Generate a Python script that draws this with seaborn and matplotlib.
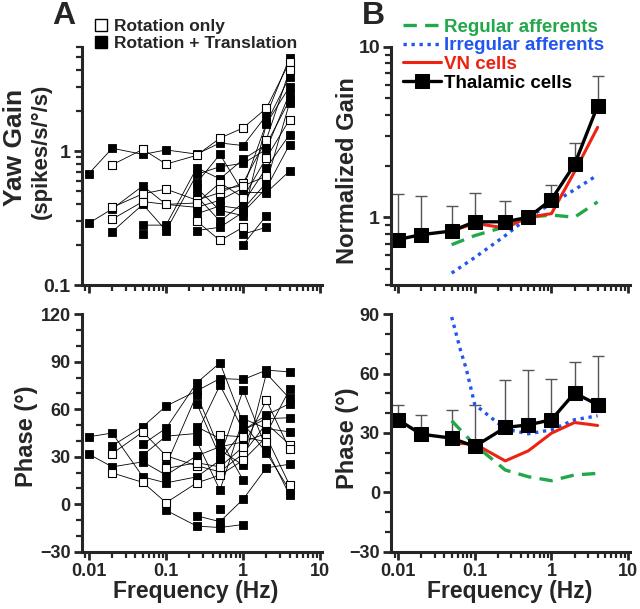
import numpy as np
import pandas as pd
import matplotlib
matplotlib.use("Agg")
import matplotlib.pyplot as plt
from matplotlib.ticker import LogLocator, NullFormatter, MultipleLocator
from matplotlib.lines import Line2D
import seaborn as sns

# stimulus frequencies (Hz)
freqs = [0.01, 0.02, 0.05, 0.1, 0.25, 0.5, 1, 2, 4]
N = None

# panel A, individual cells: gain, rotation only (open squares)
gain_rot = [
    [N, 0.79, 1.03, 0.80, 0.93, 1.25, 1.49, 2.09, 4.64],
    [N, 0.38, 0.48, 0.52, 0.43, 0.49, 0.58, 1.22, 4.03],
    [N, 0.31, 0.42, 0.40, 0.41, 0.58, 0.45, 0.89, 1.72],
    [N, N, N, N, 0.30, 0.215, 0.27, N, N],
    [N, N, N, N, N, 0.52, 0.55, 0.65, N],
]
# gain, rotation + translation (filled squares)
gain_rt = [
    [0.68, 1.05, 0.945, 1.02, 0.95, 1.15, 1.10, 1.85, 4.97],
    [0.29, 0.37, 0.55, 0.40, 0.38, 0.43, 0.53, 1.62, 3.6],
    [N, 0.25, 0.40, 0.255, 0.67, 0.765, 0.81, 1.03, 2.7],
    [N, N, 0.28, 0.28, 0.75, 0.62, 0.87, 1.12, 2.41],
    [N, N, 0.24, N, N, N, N, N, N],
    [N, N, N, N, 0.46, 0.30, 0.41, 0.75, 1.33],
    [N, N, N, N, 0.34, 0.39, 0.37, 0.58, 2.3],
    [N, N, N, N, 0.255, 0.27, 0.35, 0.53, 1.12],
    [N, N, N, N, 0.58, 0.945, 0.49, 0.49, 0.71],
    [N, N, N, N, N, N, 0.20, 0.33, N],
    [N, N, N, N, N, N, 0.24, 0.27, N],
    [N, N, N, N, 0.53, 0.36, 0.33, 1.6, 3.03],
]
# phase, rotation only
phase_rot = [
    [N, 32.0, 45.7, 30.6, 24.3, 20.5, 32.0, 51.0, 37.7],
    [N, 19.8, 13.8, 1.0, 13.5, 18.4, 27.8, 42.6, 12.1],
    [N, N, N, 22.6, 26.2, 23.6, 36.3, 65.7, 34.6],
    [N, N, N, N, N, 43.6, 42.6, 39.4, N],
]
# phase, rotation + translation
phase_rt = [
    [42.6, 45.0, 17.3, 13.5, 17.3, 27.8, 46.8, 54.1, 54.6],
    [31.6, 23.6, 26.8, 18.4, 30.6, 36.3, 39.4, 44.7, 72.5],
    [N, 37.0, 49.0, 62.0, 71.6, 79.4, 78.8, 84.7, 83.6],
    [N, N, 38.0, 48.0, 76.7, 89.3, 51.0, 32.5, 8.9],
    [N, N, 31.0, 43.0, 44.7, 75.2, 46.8, 56.3, 63.6],
    [N, N, N, 24.7, 69.3, 34.2, 24.7, 82.6, 66.8],
    [N, N, N, N, 63.6, 30.0, 72.0, 35.2, 5.8],
    [N, N, N, -3.8, -13.8, -14.7, -12.8, N, N],
    [N, N, N, N, -7.3, -11.0, 3.2, 23.0, 25.3],
    [N, N, N, N, 48.9, 41.5, 15.2, N, N],
    [N, N, N, N, 39.8, 8.9, 54.1, 47.8, 45.7],
    [N, N, N, N, N, -2.7, N, N, N],
]

# panel B, population averages
thal_gain = [0.74, 0.79, 0.83, 0.94, 0.94, 1.0, 1.27, 2.04, 4.5]
thal_gain_up = [1.36, 1.33, 1.17, 1.38, 1.25, 1.0, 1.54, 2.71, 6.75]
thal_phase = [36.7, 29.4, 27.4, 23.2, 32.8, 34.1, 36.7, 50.2, 44.3]
thal_phase_up = [44.3, 39.2, 41.7, 44.3, 57.0, 61.7, 57.5, 65.9, 68.8]

model_freqs = [0.05, 0.1, 0.25, 0.5, 1, 2, 4]
vn_gain = [0.83, 0.92, 0.865, 1.0, 1.05, 1.85, 3.37]
vn_phase = [24.8, 24.5, 15.9, 21.0, 29.9, 35.3, 33.8]
reg_gain = [0.69, 0.78, 0.88, 1.0, 1.03, 1.0, 1.23]
reg_phase = [36.2, 24.0, 11.3, 7.9, 5.9, 8.8, 9.6]
irr_gain = [0.47, 0.58, 0.78, 1.0, 1.2, 1.45, 1.77]
irr_phase_freqs = [0.05, 0.065, 0.078, 0.1, 0.25, 0.5, 1, 2, 4]
irr_phase = [88.6, 72.0, 62.0, 44.4, 32.0, 29.6, 31.6, 36.7, 38.7]

GREEN = "#22a84a"
BLUE = "#2256ee"
RED = "#ee2211"

sns.set_style("ticks")
plt.rcParams["font.family"] = ["Liberation Sans", "DejaVu Sans"]
plt.rcParams["font.weight"] = "bold"
plt.rcParams["axes.labelweight"] = "bold"


def long_table(rows, cond):
    recs = []
    for i, row in enumerate(rows):
        for f, v in zip(freqs, row):
            if v is not None:
                recs.append({"freq": f, "value": v, "cell": f"{cond}{i}", "cond": cond})
    return pd.DataFrame(recs)


def style_axis(ax):
    ax.set_xscale("log")
    ax.set_xlim(0.0081, 10.5)
    ax.set_xticks([0.01, 0.1, 1, 10])
    ax.xaxis.set_minor_locator(LogLocator(base=10, subs=np.arange(2, 10)))
    ax.xaxis.set_minor_formatter(NullFormatter())
    for s in ["top", "right"]:
        ax.spines[s].set_visible(False)
    for s in ["left", "bottom"]:
        ax.spines[s].set_linewidth(2.2)
    ax.tick_params(which="major", length=6, width=2, labelsize=13, pad=2)
    ax.tick_params(which="minor", length=4, width=1.6)
    ax.set_xlabel("")
    ax.set_ylabel("")


fig = plt.figure(figsize=(6.4, 6.09), dpi=100)
ax_a1 = fig.add_axes([0.128, 0.532, 0.375, 0.391])
ax_a2 = fig.add_axes([0.128, 0.094, 0.375, 0.390])
ax_b1 = fig.add_axes([0.611, 0.532, 0.373, 0.391])
ax_b2 = fig.add_axes([0.611, 0.094, 0.373, 0.390])

# ---- panel A ----
for ax, rot, rt in [(ax_a1, gain_rot, gain_rt), (ax_a2, phase_rot, phase_rt)]:
    df = pd.concat([long_table(rot, "rot"), long_table(rt, "rt")], ignore_index=True)
    sns.lineplot(data=df, x="freq", y="value", units="cell", estimator=None,
                 color="black", lw=0.6, legend=False, ax=ax, zorder=1)
    d_rt = df[df["cond"] == "rt"]
    d_rot = df[df["cond"] == "rot"]
    sns.scatterplot(data=d_rt, x="freq", y="value", marker="s", s=38,
                    color="black", edgecolor="black", linewidth=0.6, ax=ax, zorder=3)
    sns.scatterplot(data=d_rot, x="freq", y="value", marker="s", s=38,
                    color="white", edgecolor="black", linewidth=0.8, ax=ax, zorder=4)

style_axis(ax_a1)
ax_a1.set_yscale("log")
ax_a1.set_ylim(0.1, 6)
ax_a1.set_yticks([0.1, 1])
ax_a1.set_yticklabels(["0.1", "1"])
ax_a1.yaxis.set_minor_locator(LogLocator(base=10, subs=np.arange(2, 10)))
ax_a1.yaxis.set_minor_formatter(NullFormatter())
ax_a1.set_xticklabels([])
ax_a1.tick_params(axis="y", labelsize=14)

style_axis(ax_a2)
ax_a2.set_ylim(-30, 120)
ax_a2.set_yticks([-30, 0, 30, 60, 90, 120])
ax_a2.yaxis.set_minor_locator(MultipleLocator(10))
ax_a2.set_xticklabels(["0.01", "0.1", "1", "10"])

# ---- panel B ----
ax_b1.errorbar(freqs, thal_gain,
               yerr=[np.zeros(len(freqs)), np.array(thal_gain_up) - np.array(thal_gain)],
               fmt="none", ecolor="#555555", elinewidth=1.0, capsize=4, capthick=1.0, zorder=1)
ax_b2.errorbar(freqs, thal_phase,
               yerr=[np.zeros(len(freqs)), np.array(thal_phase_up) - np.array(thal_phase)],
               fmt="none", ecolor="#555555", elinewidth=1.0, capsize=4, capthick=1.0, zorder=1)

sns.lineplot(x=model_freqs, y=reg_gain, color=GREEN, lw=2.4, ax=ax_b1,
             label="Regular afferents")
ax_b1.lines[-1].set_dashes([4, 2.5])
sns.lineplot(x=model_freqs, y=irr_gain, color=BLUE, lw=2.4, ax=ax_b1,
             label="Irregular afferents")
ax_b1.lines[-1].set_dashes([1, 1.4])
sns.lineplot(x=model_freqs, y=vn_gain, color=RED, lw=2.2, ax=ax_b1, label="VN cells")
sns.lineplot(x=freqs, y=thal_gain, color="black", lw=2.4, marker="s", markersize=10,
             markeredgecolor="black", ax=ax_b1, label="Thalamic cells")

sns.lineplot(x=model_freqs, y=reg_phase, color=GREEN, lw=2.4, ax=ax_b2)
ax_b2.lines[-1].set_dashes([4, 2.5])
sns.lineplot(x=irr_phase_freqs, y=irr_phase, color=BLUE, lw=2.4, ax=ax_b2)
ax_b2.lines[-1].set_dashes([1, 1.4])
sns.lineplot(x=model_freqs, y=vn_phase, color=RED, lw=2.2, ax=ax_b2)
sns.lineplot(x=freqs, y=thal_phase, color="black", lw=2.4, marker="s", markersize=10,
             markeredgecolor="black", ax=ax_b2)

style_axis(ax_b1)
ax_b1.set_yscale("log")
ax_b1.set_ylim(0.4, 10)
ax_b1.set_yticks([1, 10])
ax_b1.set_yticklabels(["1", "10"])
ax_b1.yaxis.set_minor_locator(LogLocator(base=10, subs=np.arange(2, 10)))
ax_b1.yaxis.set_minor_formatter(NullFormatter())
ax_b1.set_xticklabels([])
ax_b1.tick_params(axis="y", labelsize=14)

style_axis(ax_b2)
ax_b2.set_ylim(-30, 90)
ax_b2.set_yticks([-30, 0, 30, 60, 90])
ax_b2.yaxis.set_minor_locator(MultipleLocator(10))
ax_b2.set_xticklabels(["0.01", "0.1", "1", "10"])

leg_b = ax_b1.legend(loc="upper left", bbox_to_anchor=(0.02, 1.15), frameon=False,
                     fontsize=13.5, handlelength=2.0, handletextpad=0.15,
                     labelspacing=0.08, borderaxespad=0, labelcolor="linecolor")
for t in leg_b.get_texts():
    t.set_fontweight("bold")

# legend for panel A
handles_a = [
    Line2D([], [], marker="s", ls="none", markersize=8, markerfacecolor="white",
           markeredgecolor="black", markeredgewidth=1.0),
    Line2D([], [], marker="s", ls="none", markersize=8, markerfacecolor="black",
           markeredgecolor="black"),
]
leg_a = ax_a1.legend(handles_a, ["Rotation only", "Rotation + Translation"],
                     loc="upper left", bbox_to_anchor=(0.02, 1.145), frameon=False,
                     fontsize=12.5, handlelength=0.8, handletextpad=0.4,
                     labelspacing=0.1, borderaxespad=0)
for t in leg_a.get_texts():
    t.set_fontweight("bold")

# axis labels
fig.text(0.024, 0.758, "Yaw Gain", rotation=90, ha="center", va="center",
         fontsize=19, fontweight="bold")
fig.text(0.064, 0.752, "(spikes/s/°/s)", rotation=90, ha="center", va="center",
         fontsize=16, fontweight="bold")
fig.text(0.042, 0.284, "Phase (°)", rotation=90, ha="center", va="center",
         fontsize=17, fontweight="bold")
fig.text(0.543, 0.72, "Normalized Gain", rotation=90, ha="center", va="center",
         fontsize=17, fontweight="bold")
fig.text(0.543, 0.28, "Phase (°)", rotation=90, ha="center", va="center",
         fontsize=17, fontweight="bold")
fig.text(0.305, 0.028, "Frequency (Hz)", ha="center", va="center",
         fontsize=16.5, fontweight="bold")
fig.text(0.797, 0.028, "Frequency (Hz)", ha="center", va="center",
         fontsize=16.5, fontweight="bold")
fig.text(0.1, 0.973, "A", ha="center", va="center", fontsize=23, fontweight="bold")
fig.text(0.584, 0.973, "B", ha="center", va="center", fontsize=23, fontweight="bold")

fig.savefig("out.png", dpi=100)
